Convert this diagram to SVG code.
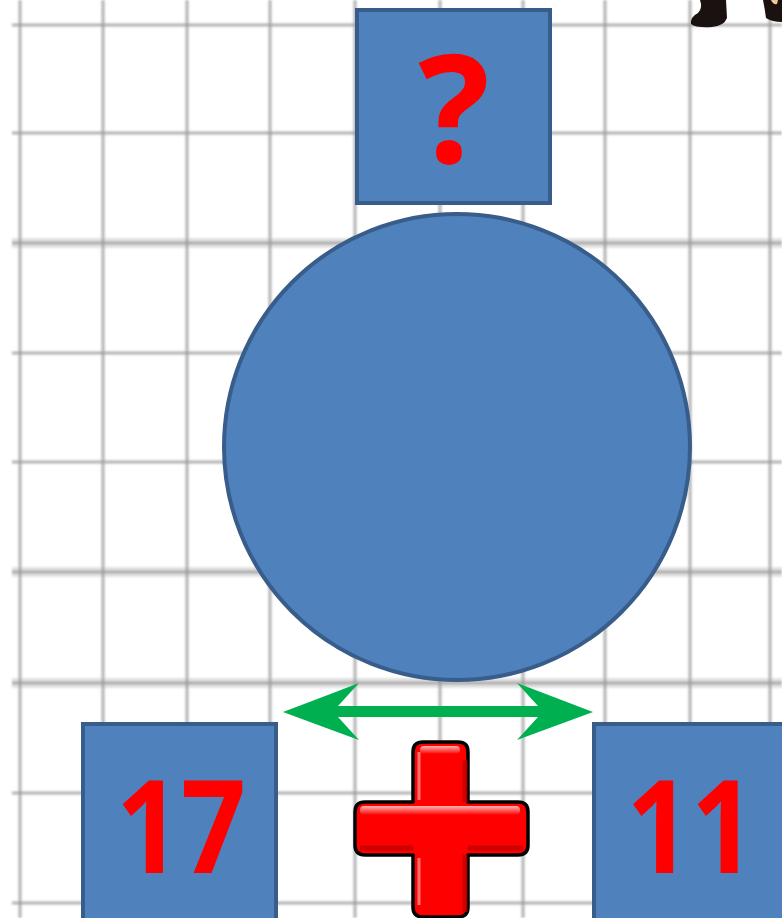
<svg xmlns="http://www.w3.org/2000/svg" width="782" height="918" viewBox="0 0 782 918">
<defs>
<style>
.grid line{stroke:#9a9a9a;stroke-width:3;opacity:0.75}
.band{fill:#e2e2e2}
.box{fill:#4F81BD;stroke:#385D8A;stroke-width:4}
.lbl{font-family:"Open Sans","Liberation Sans",sans-serif;font-weight:bold;fill:#FF0000;text-anchor:middle}
</style>
<filter id="soft" x="-5%" y="-5%" width="110%" height="110%"><feGaussianBlur stdDeviation="0.9"/></filter>
<linearGradient id="hl" x1="0" y1="0" x2="0" y2="1">
<stop offset="0" stop-color="#fff" stop-opacity="0.7"/>
<stop offset="1" stop-color="#fff" stop-opacity="0"/>
</linearGradient>
</defs>
<rect width="782" height="918" fill="#ffffff"/>
<g id="grid" filter="url(#soft)">
<rect class="band" x="12" y="238" width="770" height="10"/>
<rect class="band" x="12" y="567" width="770" height="10"/>
<rect class="band" x="12" y="678" width="770" height="10"/>
<g class="grid">
<line x1="20" y1="0" x2="20" y2="918"/>
<line x1="103" y1="0" x2="103" y2="918"/>
<line x1="187" y1="0" x2="187" y2="918"/>
<line x1="270" y1="0" x2="270" y2="918"/>
<line x1="355" y1="0" x2="355" y2="918"/>
<line x1="440" y1="0" x2="440" y2="918"/>
<line x1="523" y1="0" x2="523" y2="918"/>
<line x1="605" y1="0" x2="605" y2="918"/>
<line x1="690" y1="0" x2="690" y2="918"/>
<line x1="770" y1="0" x2="770" y2="918"/>
<line x1="12" y1="25" x2="782" y2="25"/>
<line x1="12" y1="133" x2="782" y2="133"/>
<line x1="12" y1="243" x2="782" y2="243"/>
<line x1="12" y1="353" x2="782" y2="353"/>
<line x1="12" y1="462" x2="782" y2="462"/>
<line x1="12" y1="572" x2="782" y2="572"/>
<line x1="12" y1="683" x2="782" y2="683"/>
<line x1="12" y1="793" x2="782" y2="793"/>
<line x1="12" y1="903" x2="782" y2="903"/>
</g>
</g>
<g id="shoes">
<path d="M 700,0 L 726,0 L 727,18 Q 724,26 712,27 Q 696,28 691,24 Q 690,17 698,13 Q 703,8 700,0 Z" fill="#1a1210"/>
<path d="M 763,0 L 782,0 L 782,22 Q 772,22 766,18 Q 765,10 763,0 Z" fill="#1a1210"/>
<path d="M 771,0 L 778,0 L 777,4 Q 773,5 771,0 Z" fill="#f2c49a"/>
</g>
<g id="connectors">
<polygon points="283,712 359,683 338,706 538,706 517,683 593,712 517,740 538,717 338,717 359,740" fill="#00B050"/>
</g>
<g id="node-top">
<rect class="box" x="357" y="10" width="193" height="193"/>
<text class="lbl" x="454" y="163" font-size="150">?</text>
</g>
<g id="node-circle">
<circle cx="457" cy="447" r="233" fill="#4F81BD" stroke="#385D8A" stroke-width="4"/>
</g>
<g id="node-17">
<rect class="box" x="83" y="724" width="193" height="200"/>
<text class="lbl" x="181" y="873" font-size="130" textLength="130" lengthAdjust="spacingAndGlyphs">17</text>
</g>
<g id="node-11">
<rect class="box" x="594" y="724" width="200" height="200"/>
<text class="lbl" x="691" y="873" font-size="130" textLength="129" lengthAdjust="spacingAndGlyphs">11</text>
</g>
<g id="plus">
<path d="M 423,742 H 458 Q 468,742 468,752 V 802 H 518 Q 528,802 528,812 V 845 Q 528,855 518,855 H 468 V 907 Q 468,917 458,917 H 423 Q 413,917 413,907 V 855 H 365 Q 355,855 355,845 V 812 Q 355,802 365,802 H 413 V 752 Q 413,742 423,742 Z" fill="#FF0000" stroke="#000" stroke-width="3.5" stroke-linejoin="round"/>
<path d="M 360,848 H 413 M 468,848 H 523 M 465,760 V 802 M 465,855 V 912" stroke="#c00000" stroke-width="5" fill="none" opacity="0.8"/>
<rect x="360" y="806" width="160" height="9" rx="4" fill="url(#hl)"/>
<rect x="420" y="746" width="40" height="8" rx="4" fill="url(#hl)"/>
<path d="M 419,752 V 800 M 419,858 V 905" stroke="#fff" stroke-width="3" opacity="0.45"/>
</g>
</svg>
